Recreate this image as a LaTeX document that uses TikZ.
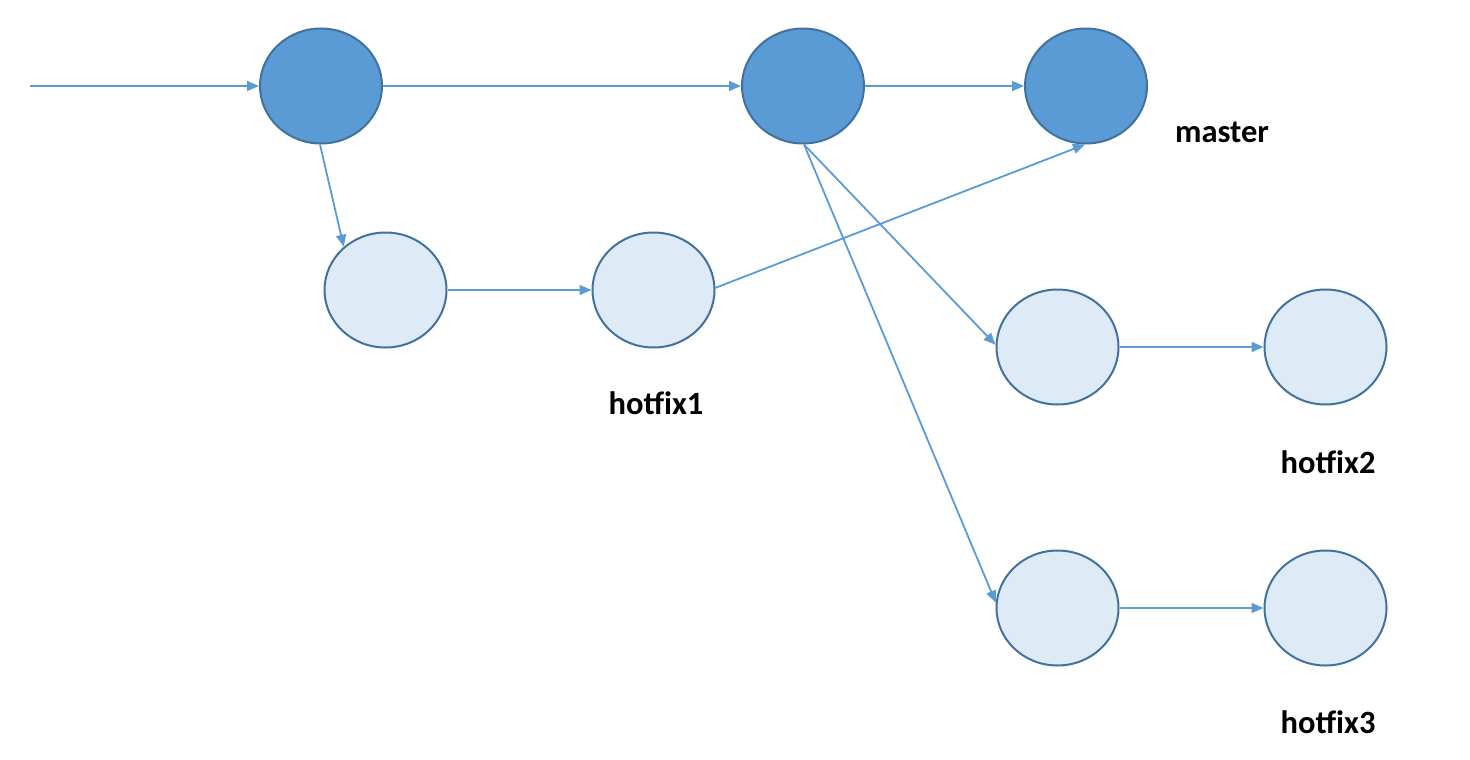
\documentclass[tikz,border=0pt]{standalone}
\usepackage{fontspec}
\setmainfont{Carlito}
\usetikzlibrary{shapes.geometric,arrows.meta}
\definecolor{darkfill}{HTML}{5B9BD5}
\definecolor{lightfill}{HTML}{DEEBF7}
\definecolor{borderc}{HTML}{41719C}
\definecolor{linec}{HTML}{5B9BD5}
\tikzset{
  commit/.style={ellipse,draw=borderc,line width=2pt,minimum width=122pt,minimum height=115pt,inner sep=0pt},
  darkcommit/.style={commit,fill=darkfill},
  lightcommit/.style={commit,fill=lightfill},
  conn/.style={draw=linec,line width=1.8pt,-{Triangle[length=12pt,width=10pt]}},
  lbl/.style={font=\fontsize{32.5}{38}\selectfont\bfseries,anchor=base,inner sep=0pt}
}
\begin{document}
\begin{tikzpicture}[x=1pt,y=-1pt]
\useasboundingbox (0,0) rectangle (1470,760);
\node[darkcommit] (d1) at (321,86) {};
\node[darkcommit] (d2) at (803,86) {};
\node[darkcommit] (m) at (1086,86) {};
\node[lightcommit] (l1) at (385.5,290) {};
\node[lightcommit] (h1) at (653.5,290) {};
\node[lightcommit] (a2) at (1057.5,347) {};
\node[lightcommit] (h2) at (1325.5,347) {};
\node[lightcommit] (a3) at (1057.5,608) {};
\node[lightcommit] (h3) at (1325.5,608) {};
\coordinate (start) at (30,86);
\node[lbl] (lm) at (1222,142) {master};
\node[lbl] (lh1) at (656,414) {hotfix1};
\node[lbl] (lh2) at (1328,473) {hotfix2};
\node[lbl] (lh3) at (1328,733) {hotfix3};
\draw[conn] (start) -- (d1.west);
\draw[conn] (d1.east) -- (d2.west);
\draw[conn] (d2.east) -- (m.west);
\draw[conn] (d1.-91) -- (l1.134);
\draw[conn] (l1.east) -- (h1.west);
\draw[conn] (h1.2) -- (m.-91);
\draw[conn] (d2.-89) -- (a2.178);
\draw[conn] (d2.-89) -- (a3.175);
\draw[conn] (a2.east) -- (h2.west);
\draw[conn] (a3.east) -- (h3.west);
\end{tikzpicture}
\end{document}
